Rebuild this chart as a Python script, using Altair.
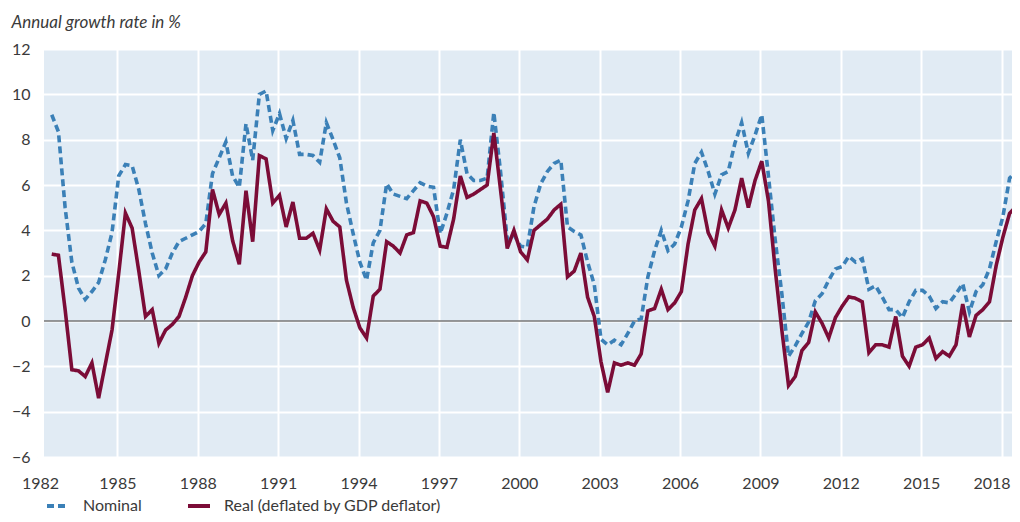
import altair as alt
import pandas as pd

# Quarterly series, first observation 1982 Q3
first_quarter = 1982.55
series_names = ["Nominal", "Real (deflated by GDP deflator)"]

nominal = [
    9.1, 8.35,
    5.0, 2.6, 1.45, 0.95,
    1.3, 1.7, 2.7, 3.9,
    6.4, 6.9, 6.85, 5.8,
    4.3, 3.0, 2.0, 2.3,
    3.0, 3.5, 3.65, 3.8,
    3.95, 4.3, 6.5, 7.2,
    7.9, 6.4, 5.9, 8.7,
    7.1, 10.0, 10.15, 8.4,
    9.15, 8.05, 8.85, 7.35,
    7.35, 7.3, 7.0, 8.75,
    8.0, 7.2, 5.2, 3.85,
    2.6, 1.8, 3.45, 4.0,
    6.05, 5.6, 5.5, 5.4,
    5.75, 6.1, 5.95, 5.9,
    3.85, 4.75, 5.8, 8.0,
    6.5, 6.2, 6.2, 6.3,
    9.2, 6.6, 3.6, 3.8,
    3.3, 3.25, 5.05, 6.05,
    6.6, 6.95, 7.1, 4.15,
    3.95, 3.8, 2.6, 1.6,
    -0.8, -1.05, -0.85, -1.05,
    -0.55, 0.0, 0.1, 1.95,
    3.1, 4.0, 3.1, 3.4,
    4.15, 5.3, 6.95, 7.45,
    6.6, 5.6, 6.45, 6.6,
    7.85, 8.75, 7.4, 8.2,
    9.1, 6.4, 3.6, 1.2,
    -1.55, -1.1, -0.55, -0.05,
    0.9, 1.2, 1.8, 2.3,
    2.4, 2.85, 2.6, 2.75,
    1.4, 1.55, 1.05, 0.5,
    0.5, 0.15, 0.85, 1.35,
    1.35, 1.1, 0.55, 0.85,
    0.8, 1.2, 1.65, 0.4,
    1.3, 1.6, 2.3, 3.5,
    4.6, 6.3, 6.6, 6.7,
]

real = [
    2.95, 2.9,
    0.5, -2.15, -2.2, -2.45,
    -1.85, -3.4, -1.9, -0.4,
    2.1, 4.76, 4.1, 2.2,
    0.2, 0.5, -0.98, -0.4,
    -0.15, 0.2, 1.05, 2.0,
    2.6, 3.05, 5.8, 4.7,
    5.2, 3.55, 2.5, 5.75,
    3.5, 7.3, 7.15, 5.2,
    5.55, 4.15, 5.25, 3.65,
    3.65, 3.87, 3.13, 4.95,
    4.4, 4.15, 1.8, 0.6,
    -0.3, -0.75, 1.1, 1.4,
    3.5, 3.3, 3.0, 3.8,
    3.9, 5.3, 5.2, 4.6,
    3.3, 3.25, 4.5, 6.4,
    5.45, 5.6, 5.8, 6.0,
    8.3, 5.8, 3.2, 4.0,
    3.05, 2.7, 4.0, 4.25,
    4.5, 4.9, 5.15, 1.95,
    2.2, 3.0, 1.05, 0.2,
    -1.8, -3.15, -1.85, -1.95,
    -1.85, -1.95, -1.45, 0.45,
    0.55, 1.4, 0.5, 0.8,
    1.3, 3.4, 4.9, 5.4,
    3.9, 3.3, 4.9, 4.1,
    4.9, 6.3, 5.0, 6.2,
    7.05, 5.3, 2.3, -0.4,
    -2.85, -2.45, -1.3, -0.95,
    0.4, -0.1, -0.75, 0.15,
    0.65, 1.07, 1.0, 0.85,
    -1.4, -1.05, -1.05, -1.15,
    0.2, -1.55, -2.0, -1.15,
    -1.05, -0.75, -1.65, -1.35,
    -1.55, -1.05, 0.75, -0.7,
    0.25, 0.5, 0.85, 2.45,
    3.7, 4.75, 5.05, 4.9,
]

x_ticks = list(range(1982, 2019, 3))
y_ticks = list(range(-6, 13, 2))

W, H = 975, 408
FONT = "Lato"
TEXT = "#3a3a3a"

quarters = [first_quarter + 0.25 * i for i in range(len(real))]
df = pd.DataFrame({
    "t": quarters + quarters,
    "v": nominal + real,
    "s": [series_names[0]] * len(nominal) + [series_names[1]] * len(real),
})

x_scale = alt.Scale(domain=[1982, 2018.39], nice=False, zero=False)
y_scale = alt.Scale(domain=[-6, 12], nice=False, zero=False)

legend_kw = dict(title=None, orient="none", direction="horizontal",
                 legendX=8, legendY=444, symbolType="stroke",
                 symbolSize=484, symbolStrokeWidth=4,
                 labelOffset=12, columnPadding=38, labelLimit=500,
                 labelFont=FONT, labelFontSize=16, labelColor=TEXT)

lines = alt.Chart(df).mark_line(
    clip=True, strokeWidth=3.6, strokeCap="butt", strokeJoin="miter"
).encode(
    x=alt.X("t:Q", scale=x_scale,
            axis=alt.Axis(values=x_ticks, format="d", title=None,
                          labelPadding=18, labelFlush=False,
                          labelOffset={"condition": [
                              {"test": "datum.value == 2018", "value": -10},
                              {"test": "datum.value == 1982", "value": 3}],
                              "value": 0})),
    y=alt.Y("v:Q", scale=y_scale,
            axis=alt.Axis(values=y_ticks, format="d", labelPadding=7,
                          title="Annual growth rate in %", titleAngle=0,
                          titleX=-26, titleY=-22, titleAlign="left",
                          titleBaseline="alphabetic", titleFontStyle="italic",
                          titleFont=FONT, titleFontSize=17, titleFontWeight="normal",
                          titleColor=TEXT)),
    color=alt.Color("s:N", scale=alt.Scale(domain=series_names, range=["#3b80b7", "#7b0c37"]),
                    legend=alt.Legend(**legend_kw)),
    strokeDash=alt.StrokeDash("s:N", scale=alt.Scale(domain=series_names, range=[[7, 4], [1, 0]]),
                              legend=alt.Legend(**legend_kw)),
)

strip = alt.Chart(pd.DataFrame({"a": [0]})).mark_rect(color="white").encode(
    x=alt.value(0), x2=alt.value(7), y=alt.value(0), y2=alt.value(H)
)

zero = alt.Chart(pd.DataFrame({"y": [0]})).mark_rule(color="#333333", strokeWidth=1.2).encode(
    y=alt.Y("y:Q", scale=y_scale), x=alt.value(7), x2=alt.value(W)
)

chart = alt.layer(strip, zero, lines).properties(
    width=W, height=H,
    autosize=alt.AutoSizeParams(type="none"),
    padding={"left": 29, "top": 41, "right": 0, "bottom": 57},
).configure_view(
    fill="#e1ebf4", stroke="transparent"
).configure_axis(
    labelFont=FONT, labelFontSize=16, labelColor=TEXT,
    ticks=False, domain=False, gridColor="white", gridWidth=2, gridOpacity=1,
)

chart.save("out.html", embed_options={"renderer": "svg", "actions": False})
